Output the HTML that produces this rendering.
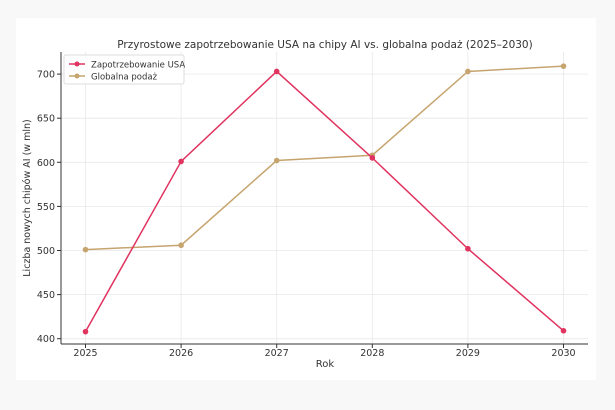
<!DOCTYPE html>
<html><head><meta charset="utf-8"><style>
html,body{margin:0;padding:0;background:#f8f8f8;}
svg{display:block;font-family:"DejaVu Sans","Liberation Sans",sans-serif;}
</style></head><body>
<svg id="chart" width="615" height="410">
<rect x="16" y="18" width="580" height="362" fill="#ffffff"/>
<g id="grid"></g><g id="axes"></g><g id="series"></g>
<text x="325" y="48" text-anchor="middle" font-size="10.5" fill="#333">Przyrostowe zapotrzebowanie USA na chipy AI vs. globalna podaż (2025–2030)</text>
<text x="325" y="367" text-anchor="middle" font-size="10" fill="#333">Rok</text>
<text transform="translate(30,198) rotate(-90)" text-anchor="middle" font-size="9.5" fill="#333">Liczba nowych chipów AI (w mln)</text>
<g>
<rect x="64" y="55" width="120" height="29" rx="2" fill="#fff" stroke="#ddd"/>
<line x1="69" y1="64" x2="85" y2="64" stroke="#e0335f" stroke-width="1.5"/><circle cx="77" cy="64" r="2.5" fill="#e0335f"/>
<text x="91" y="67.5" font-size="8.5" fill="#333">Zapotrzebowanie USA</text>
<line x1="69" y1="76" x2="85" y2="76" stroke="#c6a46e" stroke-width="1.5"/><circle cx="77" cy="76" r="2.5" fill="#c6a46e"/>
<text x="91" y="79.5" font-size="8.5" fill="#333">Globalna podaż</text>
</g>
</svg>
<script>
const years=[2025,2026,2027,2028,2029,2030];
const usaDemand=[408,601,703,605,502,409];
const globalSupply=[501,506,602,608,703,709];
const yTicks=[400,450,500,550,600,650,700];
const NS="http://www.w3.org/2000/svg";
function x(i){return 85.5+(i-2025)*95.6;}
function y(v){return 338.7-(v-400)*(264.6/300);}
function mk(tag,attrs,parent){const e=document.createElementNS(NS,tag);for(const k in attrs)e.setAttribute(k,attrs[k]);document.getElementById(parent).appendChild(e);return e;}
yTicks.forEach(t=>{
  const g=mk('line',{x1:61,x2:588,y1:y(t),y2:y(t),stroke:'#e8e8e8','stroke-width':0.8},'grid');
  
  
  mk('line',{x1:57,x2:61,y1:y(t),y2:y(t),stroke:'#333'},'axes');
  const tx=mk('text',{x:55,y:y(t)+3.5,'text-anchor':'end','font-size':9.5,fill:'#333'},'axes');
  tx.textContent=t;
  
  
});
years.forEach(yr=>{
  const g=mk('line',{x1:x(yr),x2:x(yr),y1:52,y2:344,stroke:'#e8e8e8','stroke-width':0.8},'grid');
  
  
  mk('line',{x1:x(yr),x2:x(yr),y1:344,y2:348,stroke:'#333'},'axes');
  const tx=mk('text',{x:x(yr),y:356,'text-anchor':'middle','font-size':9.5,fill:'#333'},'axes');
  tx.textContent=yr;
  
  
});
const la=mk('line',{x1:61,x2:61,y1:52,y2:344,stroke:'#333','stroke-width':1},'axes');


const ba=mk('line',{x1:61,x2:588,y1:344,y2:344,stroke:'#333','stroke-width':1},'axes');


function drawSeries(vals,color,name){
  const pl=mk('polyline',{points:vals.map((v,i)=>x(years[i])+','+y(v)).join(' '),fill:'none',stroke:color,'stroke-width':1.5},'series');
  
  
  vals.forEach((v,i)=>{
    const c=mk('circle',{cx:x(years[i]),cy:y(v),r:2.8,fill:color},'series');
    
    
  });
}
drawSeries(globalSupply,'#c6a46e','global-supply');
drawSeries(usaDemand,'#e0335f','usa-demand');
</script>
</body></html>
